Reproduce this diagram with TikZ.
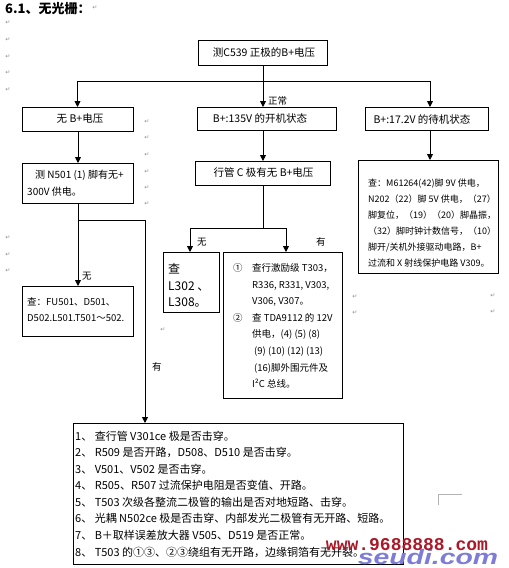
\documentclass[tikz,border=0pt]{standalone}
\usepackage{fontspec}
\setmainfont{Noto Sans CJK SC}
\newfontfamily\markfont{DejaVu Sans}
\newfontfamily\wmfont{Liberation Mono}
\newfontfamily\logofont{Liberation Sans}
\usetikzlibrary{arrows.meta,calc}
\begin{document}
\begin{tikzpicture}[x=1pt,y=-1pt,
  box/.style={draw, line width=1pt, inner sep=0pt, anchor=north west},
  conn/.style={line width=0.9pt},
  arr/.style={conn, -{Triangle[length=6pt,width=6pt]}},
  txt/.style={inner sep=0pt, align=left},
  lbl/.style={inner sep=0pt, anchor=west, font=\fontsize{9.5}{11}\selectfont},
  pm/.style={inner sep=0pt, text=black!45, font=\markfont\fontsize{6}{7}\selectfont},
]
\useasboundingbox (0,0) rectangle (509,568);

% title
\node[inner sep=0pt, anchor=west, font=\bfseries\fontsize{13}{14}\selectfont] (title) at (5,9) {6.1、无光栅：};

% boxes
\node[box, minimum width=129pt, minimum height=25pt] (top) at (198,40) {};
\node[box, minimum width=111pt, minimum height=24pt] (noB) at (22,107) {};
\node[box, minimum width=139pt, minimum height=23pt] (on) at (197,107) {};
\node[box, minimum width=123pt, minimum height=23pt] (stby) at (365,107) {};
\node[box, minimum width=135pt, minimum height=24pt] (hc) at (195,161) {};
\node[box, minimum width=111pt, minimum height=40pt] (n501) at (22,163) {};
\node[box, minimum width=111pt, minimum height=50pt] (fu) at (22,286) {};
\node[box, minimum width=56pt, minimum height=60pt] (l302) at (163,252) {};
\node[box, minimum width=119pt, minimum height=146pt] (mid) at (223,252) {};
\node[box, minimum width=140pt, minimum height=113pt] (rbox) at (358,160) {};
\node[box, minimum width=330pt, minimum height=141pt] (bot) at (73,423) {};

% texts
\node[txt, font=\fontsize{10.5}{12}\selectfont] (ttop) at (264,52.5) {测C539 正极的B+电压};
\node[txt, font=\fontsize{10.5}{12}\selectfont] (tnoB) at (80,119) {无 B+电压};
\node[txt, font=\fontsize{10.5}{12}\selectfont] (ton) at (260,119) {B+:135V 的开机状态};
\node[txt, font=\fontsize{10.5}{12}\selectfont] (tstby) at (422,119) {B+:17.2V 的待机状态};
\node[txt, font=\fontsize{10.5}{12}\selectfont] (thc) at (263.5,173) {行管 C 极有无 B+电压};

\node[txt, anchor=west, font=\fontsize{10}{17}\selectfont] (tn501) at (27,183.5)
  {\hspace*{8pt}测 N501 (1) 脚有无+\\300V 供电。};
\node[txt, anchor=west, font=\fontsize{9.5}{15.5}\selectfont] (tfu) at (27,309.5)
  {查：FU501、D501、\\D502.L501.T501～502.};
\node[txt, anchor=west, font=\fontsize{12}{16.5}\selectfont] (tl302) at (168,285.5)
  {查\\L302 、\\L308。};
\node[txt, anchor=west, font=\fontsize{9.5}{16.57}\selectfont] (tmid) at (233,326)
  {\makebox[19pt][l]{①}查行激励级 T303，\\
   \hspace*{19pt}R336, R331, V303,\\
   \hspace*{19pt}V306, V307。\\
   \makebox[19pt][l]{②}查 TDA9112 的 12V\\
   \hspace*{19pt}供电，(4) (5) (8)\\
   \hspace*{21pt}(9) (10) (12) (13)\\
   \hspace*{21pt}(16)脚外围元件及\\
   \hspace*{19pt}I²C 总线。};
\node[txt, anchor=west, font=\fontsize{9}{16}\selectfont] (trbox) at (368,223)
  {查：M61264(42)脚 9V 供电，\\
   N202（22）脚 5V 供电，（27）\\
   脚复位，（19）（20）脚晶振，\\
   （32）脚时钟计数信号，（10）\\
   脚开/关机外接驱动电路，B+\\
   过流和 X 射线保护电路 V309。};
\node[txt, anchor=west, font=\fontsize{11}{16.57}\selectfont] (tbot) at (75,494)
  {1、 查行管 V301ce 极是否击穿。\\
   2、 R509 是否开路，D508、D510 是否击穿。\\
   3、 V501、V502 是否击穿。\\
   4、 R505、R507 过流保护电阻是否变值、开路。\\
   5、 T503 次级各整流二极管的输出是否对地短路、击穿。\\
   6、 光耦 N502ce 极是否击穿、内部发光二极管有无开路、短路。\\
   7、 B＋取样误差放大器 V505、D519 是否正常。\\
   8、 T503 的①③、②③绕组有无开路，边缘铜箔有无开裂。};

% connectors
\coordinate (j1) at (263,81);
\coordinate (jl) at (77.5,81);
\coordinate (jr) at (430,81);
\draw[conn] (top.south) -- (top.south |- j1);
\draw[conn] (jl) -- (jr);
\draw[arr] (jl) -- (jl |- noB.north);
\draw[arr] (j1) -- (j1 |- on.north);
\draw[arr] (jr) -- (jr |- stby.north);
\draw[arr] (hc.north |- on.south) -- (hc.north);
\coordinate (j2l) at (190,228);
\coordinate (j2r) at (286,228);
\draw[conn] (hc.south) -- (hc.south |- j2l);
\draw[conn] (j2l) -- (j2r);
\draw[arr] (j2l) -- (j2l |- l302.north);
\draw[arr] (j2r) -- (j2r |- mid.north);
\draw[arr] (jr |- stby.south) -- (jr |- rbox.north);
\draw[arr] (noB.south) -- (n501.north);
\draw[arr] (n501.south) -- (fu.north);
\coordinate (j3) at (77.5,220);
\coordinate (j3r) at (145,220);
\draw[arr] (j3) -- (j3r) -- (j3r |- bot.north);

% labels
\node[lbl] (lnormal) at (268,101) {正常};
\node[lbl] (lno1) at (82,276) {无};
\node[lbl] (lyes1) at (152,367) {有};
\node[lbl] (lno2) at (197,242) {无};
\node[lbl] (lyes2) at (316,242) {有};

% paragraph marks
\foreach \px/\py [count=\i] in {95/8, 8/23, 8/40, 8/57, 8/73, 8/90, 147/122, 147/138, 147/155, 147/172, 147/188, 147/204, 8/238, 8/255, 8/271, 163/330, 355/297, 355/313, 493/296, 493/312}
  \node[pm] (pm\i) at (\px,\py) {↵};
\draw[black!30, line width=0.8pt] (438,505) -- (438,494) -- (462,494);

% watermark
\node[inner sep=0pt, text={rgb,255:red,125;green,125;blue,215}, font=\logofont\bfseries\itshape\fontsize{21}{24}\selectfont, xscale=1.35] (logo) at (428,557) {seudi.com};
\node[inner sep=0pt, text={rgb,255:red,170;green,25;blue,40}, font=\wmfont\bfseries\fontsize{18}{20}\selectfont] (wm) at (407,545) {www.9688888.com};
\end{tikzpicture}
\end{document}
